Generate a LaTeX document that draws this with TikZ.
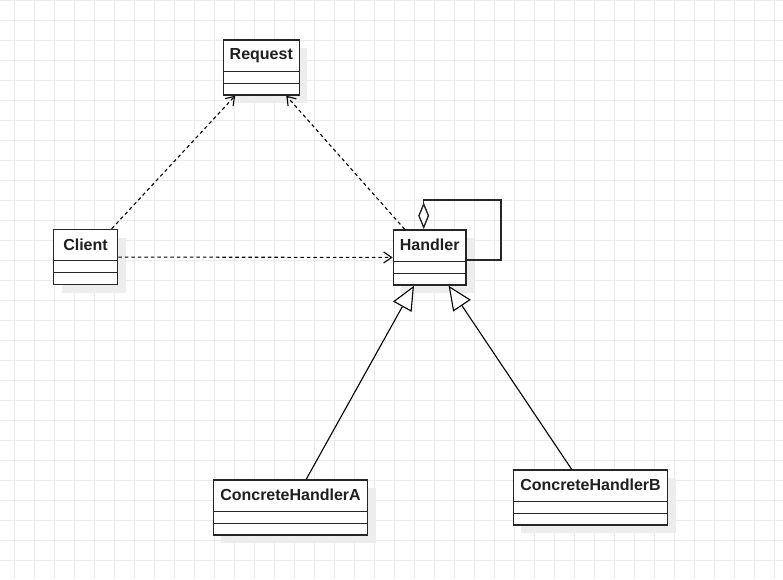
\documentclass[tikz,border=0pt]{standalone}
\usepackage{fontspec}
\setsansfont{Liberation Sans}
\usetikzlibrary{arrows.meta,calc,shadows}
\newcommand\umlfont{\sffamily\bfseries\fontsize{16}{19}\selectfont}
\tikzset{
  gridline/.style={draw=black!8, line width=1pt},
  umlbox/.style={draw=black!85, fill=white, line width=1.5pt, inner sep=0pt,
    minimum height=55pt,
    drop shadow={shadow xshift=8pt, shadow yshift=-8pt, fill=black!7, opacity=1}},
  umltitle/.style={font=\umlfont, inner sep=0pt, text=black!88},
  divider/.style={draw=black!85, line width=1.4pt},
  dep/.style={draw=black, line width=1.1pt, dash pattern=on 3.5pt off 3pt,
    -{Straight Barb[length=8pt,width=11pt]}},
  inherit/.style={draw=black, line width=1.1pt,
    -{Triangle[open,length=24pt,width=21pt,fill=white]}},
  aggr/.style={draw=black!85, line width=1.4pt,
    -{Diamond[open,length=27pt,width=11pt,fill=white]}}
}
\begin{document}
\begin{tikzpicture}[x=1pt,y=-1pt]
\useasboundingbox (0,0) rectangle (783,579);
\fill[white] (0,0) rectangle (783,579);
% grid
\foreach \gx in {14,34,...,774} \draw[gridline] (\gx,0) -- (\gx,579);
\foreach \gy in {0,20,...,579} \draw[gridline] (0,\gy) -- (783,\gy);

% class boxes
\node[umlbox, minimum width=76pt]    (request)  at (261.3,67.5) {};
\node[umlbox, minimum width=64pt]    (client)   at (85.5,257)   {};
\node[umlbox, minimum width=72.7pt]  (handler)  at (429.7,257.5) {};
\node[umlbox, minimum width=154.4pt] (chA)      at (290.5,507.5) {};
\node[umlbox, minimum width=154.4pt] (chB)      at (590.5,497.5) {};

% titles and compartments
\foreach \n/\t in {request/Request, client/Client, handler/Handler,
                   chA/ConcreteHandlerA, chB/ConcreteHandlerB} {
  \node[umltitle] (\n T) at ($(\n.north)+(0,16)$) {\t};
  \draw[divider] ($(\n.north west)+(0,32)$) -- ($(\n.north east)+(0,32)$);
  \draw[divider] ($(\n.north west)+(0,44)$) -- ($(\n.north east)+(0,44)$);
}

% dependencies
\draw[dep] (client) -- (request);
\draw[dep] (handler) -- (request);
\draw[dep] (client) -- (handler);

% generalisations
\draw[inherit] (chA) -- (handler);
\draw[inherit] (chB) -- (handler);

% self aggregation
\coordinate (loopA) at (501,260);
\coordinate (loopC) at (423.7,200);
\draw[aggr] (handler.east |- loopA) -- (loopA) |- (loopC) -- (loopC |- handler.north);
\end{tikzpicture}
\end{document}
